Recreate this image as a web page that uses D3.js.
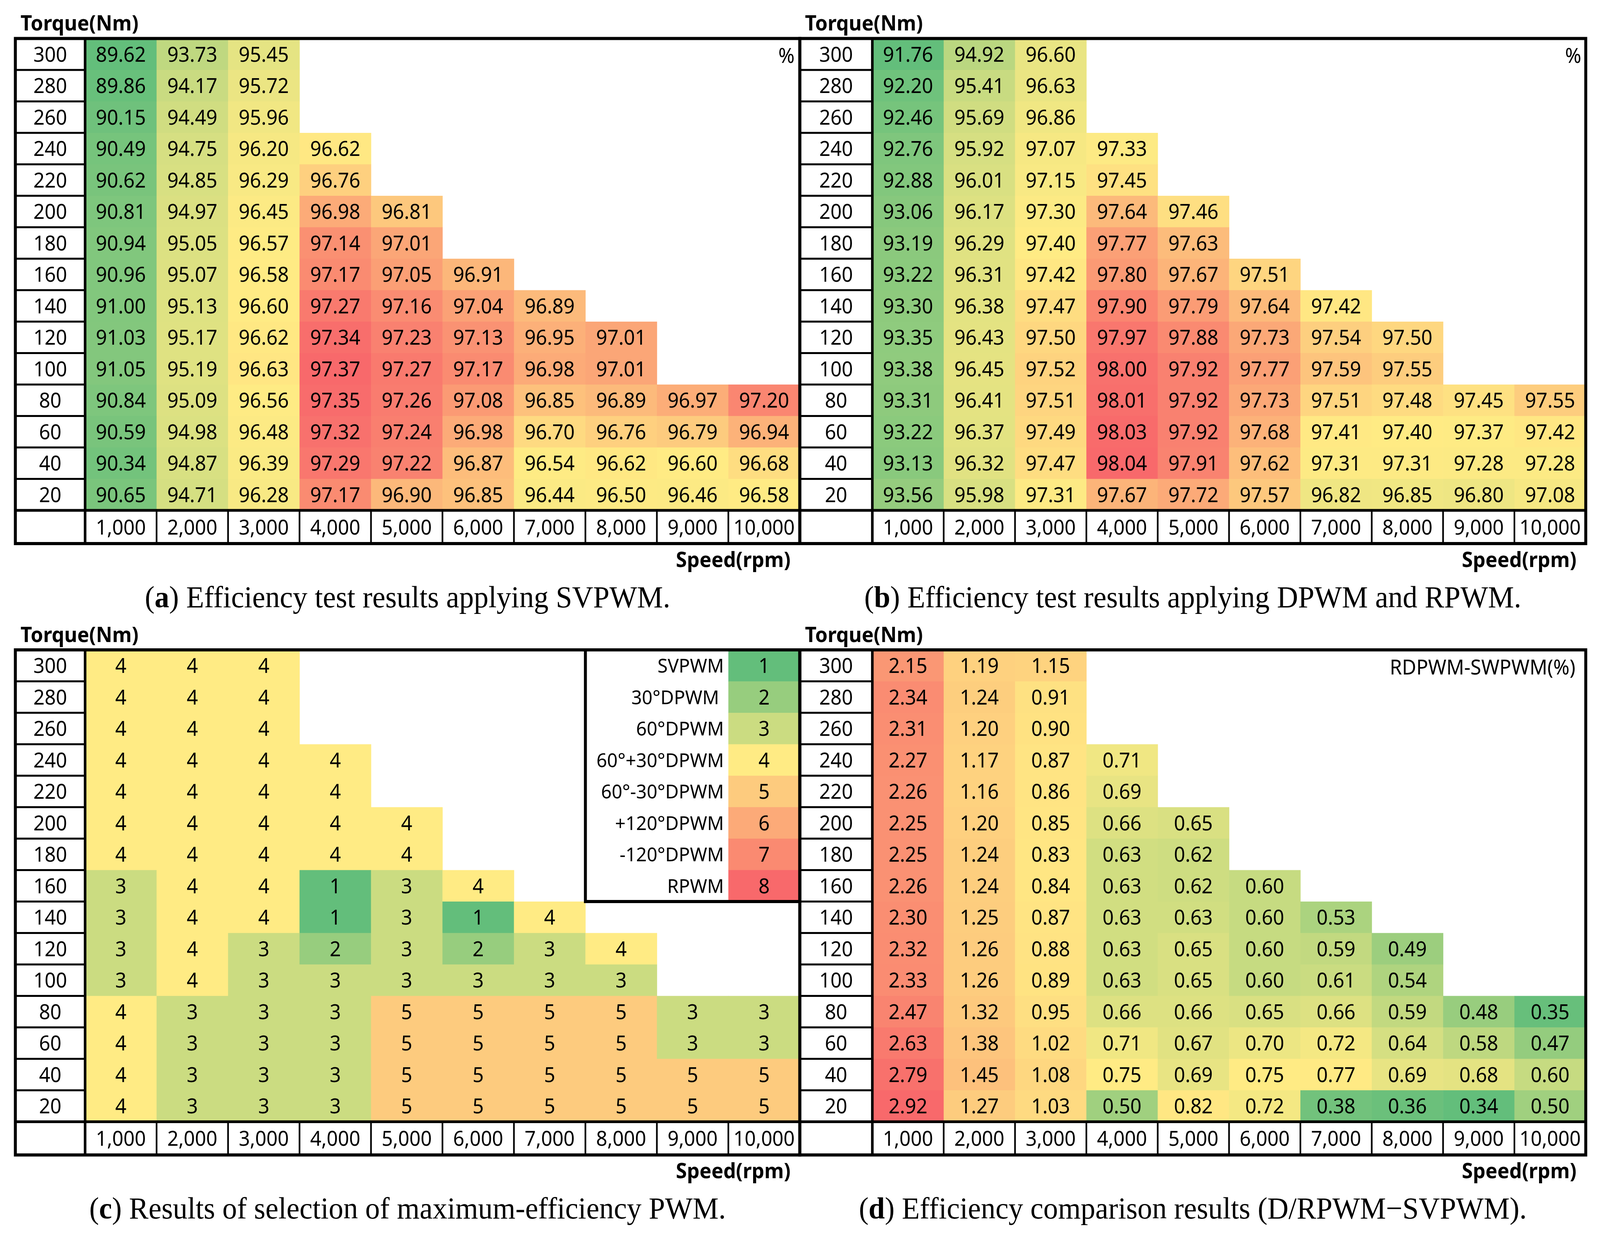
<!DOCTYPE html>
<html>
<head>
<meta charset="utf-8">
<script src="https://cdn.jsdelivr.net/npm/d3@7"></script>
<style>
  html, body { margin: 0; padding: 0; background: #fff; width: 100%; height: 100%; overflow: hidden; }
  svg { display: block; }
  svg text { font-family: 'Noto Sans', 'Open Sans', sans-serif; }
</style>
</head>
<body>
<script>
// Axis categories
const speeds = [1000, 2000, 3000, 4000, 5000, 6000, 7000, 8000, 9000, 10000];
const torques = [300, 280, 260, 240, 220, 200, 180, 160, 140, 120, 100, 80, 60, 40, 20];

// (a) efficiency with SVPWM, one row per torque (top = 300 Nm)
const effSvpwm = [
    [89.62, 93.73, 95.45],
    [89.86, 94.17, 95.72],
    [90.15, 94.49, 95.96],
    [90.49, 94.75, 96.20, 96.62],
    [90.62, 94.85, 96.29, 96.76],
    [90.81, 94.97, 96.45, 96.98, 96.81],
    [90.94, 95.05, 96.57, 97.14, 97.01],
    [90.96, 95.07, 96.58, 97.17, 97.05, 96.91],
    [91.00, 95.13, 96.60, 97.27, 97.16, 97.04, 96.89],
    [91.03, 95.17, 96.62, 97.34, 97.23, 97.13, 96.95, 97.01],
    [91.05, 95.19, 96.63, 97.37, 97.27, 97.17, 96.98, 97.01],
    [90.84, 95.09, 96.56, 97.35, 97.26, 97.08, 96.85, 96.89, 96.97, 97.20],
    [90.59, 94.98, 96.48, 97.32, 97.24, 96.98, 96.70, 96.76, 96.79, 96.94],
    [90.34, 94.87, 96.39, 97.29, 97.22, 96.87, 96.54, 96.62, 96.60, 96.68],
    [90.65, 94.71, 96.28, 97.17, 96.90, 96.85, 96.44, 96.50, 96.46, 96.58]
];

// (b) efficiency with DPWM and RPWM
const effDrpwm = [
    [91.76, 94.92, 96.60],
    [92.20, 95.41, 96.63],
    [92.46, 95.69, 96.86],
    [92.76, 95.92, 97.07, 97.33],
    [92.88, 96.01, 97.15, 97.45],
    [93.06, 96.17, 97.30, 97.64, 97.46],
    [93.19, 96.29, 97.40, 97.77, 97.63],
    [93.22, 96.31, 97.42, 97.80, 97.67, 97.51],
    [93.30, 96.38, 97.47, 97.90, 97.79, 97.64, 97.42],
    [93.35, 96.43, 97.50, 97.97, 97.88, 97.73, 97.54, 97.50],
    [93.38, 96.45, 97.52, 98.00, 97.92, 97.77, 97.59, 97.55],
    [93.31, 96.41, 97.51, 98.01, 97.92, 97.73, 97.51, 97.48, 97.45, 97.55],
    [93.22, 96.37, 97.49, 98.03, 97.92, 97.68, 97.41, 97.40, 97.37, 97.42],
    [93.13, 96.32, 97.47, 98.04, 97.91, 97.62, 97.31, 97.31, 97.28, 97.28],
    [93.56, 95.98, 97.31, 97.67, 97.72, 97.57, 96.82, 96.85, 96.80, 97.08]
];

// (c) selected PWM code
const bestPwm = [
    [4, 4, 4],
    [4, 4, 4],
    [4, 4, 4],
    [4, 4, 4, 4],
    [4, 4, 4, 4],
    [4, 4, 4, 4, 4],
    [4, 4, 4, 4, 4],
    [3, 4, 4, 1, 3, 4],
    [3, 4, 4, 1, 3, 1, 4],
    [3, 4, 3, 2, 3, 2, 3, 4],
    [3, 4, 3, 3, 3, 3, 3, 3],
    [4, 3, 3, 3, 5, 5, 5, 5, 3, 3],
    [4, 3, 3, 3, 5, 5, 5, 5, 3, 3],
    [4, 3, 3, 3, 5, 5, 5, 5, 5, 5],
    [4, 3, 3, 3, 5, 5, 5, 5, 5, 5]
];
const pwmNames = ['SVPWM', '30°DPWM ', '60°DPWM', '60°+30°DPWM', '60°-30°DPWM', '+120°DPWM', '-120°DPWM', 'RPWM'];
const pwmCodes = [1, 2, 3, 4, 5, 6, 7, 8];

// (d) difference D/RPWM - SVPWM
const effDiff = [
    [2.15, 1.19, 1.15],
    [2.34, 1.24, 0.91],
    [2.31, 1.20, 0.90],
    [2.27, 1.17, 0.87, 0.71],
    [2.26, 1.16, 0.86, 0.69],
    [2.25, 1.20, 0.85, 0.66, 0.65],
    [2.25, 1.24, 0.83, 0.63, 0.62],
    [2.26, 1.24, 0.84, 0.63, 0.62, 0.60],
    [2.30, 1.25, 0.87, 0.63, 0.63, 0.60, 0.53],
    [2.32, 1.26, 0.88, 0.63, 0.65, 0.60, 0.59, 0.49],
    [2.33, 1.26, 0.89, 0.63, 0.65, 0.60, 0.61, 0.54],
    [2.47, 1.32, 0.95, 0.66, 0.66, 0.65, 0.66, 0.59, 0.48, 0.35],
    [2.63, 1.38, 1.02, 0.71, 0.67, 0.70, 0.72, 0.64, 0.58, 0.47],
    [2.79, 1.45, 1.08, 0.75, 0.69, 0.75, 0.77, 0.69, 0.68, 0.60],
    [2.92, 1.27, 1.03, 0.50, 0.82, 0.72, 0.38, 0.36, 0.34, 0.50]
];

// Excel-like 3 colour scale
const GREEN = '#63BE7B', YELLOW = '#FFEB84', RED = '#F8696B';
const FS = 53;
const W = 4324, H = 3168;

// viewBox stretched to the viewport so the figure fills the whole picture
const svg = d3.select('body').append('svg')
    .attr('viewBox', `0 0 ${W} ${H}`)
    .attr('preserveAspectRatio', 'none')
    .style('width', '100vw')
    .style('height', '100vh');

function heatScale(rows) {
    const flat = rows.flat();
    return d3.scaleLinear()
        .domain([d3.min(flat), d3.median(flat), d3.max(flat)])
        .range([GREEN, YELLOW, RED]);
}

function drawPanel(p) {
    const g = svg.append('g');
    const rowH = 80.5, speedH = 85;
    const bottomRows = p.top + rowH * torques.length;
    const bottom = bottomRows + speedH;

    const x = d3.scaleBand().domain(speeds).range([p.labelRight, p.right]);
    const y = d3.scaleBand().domain(torques).range([p.top, bottomRows]);

    // Cells
    const cells = p.rows.flatMap((row, i) => row.map((v, j) => ({ t: torques[i], s: speeds[j], v })));
    g.selectAll('rect.cell').data(cells).join('rect')
        .attr('class', 'cell')
        .attr('x', d => x(d.s))
        .attr('y', d => y(d.t))
        .attr('width', x.bandwidth() + 0.6)
        .attr('height', y.bandwidth() + 0.6)
        .attr('fill', d => p.color(d.v));

    g.selectAll('text.cell').data(cells).join('text')
        .attr('class', 'cell')
        .attr('x', d => x(d.s) + x.bandwidth() / 2)
        .attr('y', d => y(d.t) + y.bandwidth() / 2)
        .attr('dy', '0.36em')
        .attr('text-anchor', 'middle')
        .style('font-size', FS + 'px')
        .text(d => p.fmt(d.v));

    // Torque labels (left axis)
    const yAxis = g.append('g')
        .attr('transform', `translate(${(p.left + p.labelRight) / 2},0)`)
        .call(d3.axisLeft(y).tickSize(0).tickPadding(0));
    yAxis.select('.domain').remove();
    yAxis.selectAll('text')
        .attr('text-anchor', 'middle')
        .attr('x', 0)
        .attr('dy', '0.36em')
        .style('font-family', "'Noto Sans', sans-serif")
        .style('font-size', FS + 'px')
        .style('fill', '#000');

    // Speed labels (bottom axis)
    const xAxis = g.append('g')
        .attr('transform', `translate(0,${bottomRows + speedH / 2})`)
        .call(d3.axisBottom(x).tickSize(0).tickPadding(0).tickFormat(d3.format(',')));
    xAxis.select('.domain').remove();
    xAxis.selectAll('text')
        .attr('y', 0)
        .attr('dy', '0.36em')
        .style('font-family', "'Noto Sans', sans-serif")
        .style('font-size', FS + 'px')
        .style('fill', '#000');

    // Grid lines of label column and speed row
    g.selectAll('line.rowsep').data(torques.slice(1)).join('line')
        .attr('class', 'rowsep')
        .attr('x1', p.left).attr('x2', p.labelRight)
        .attr('y1', d => y(d)).attr('y2', d => y(d))
        .attr('stroke', '#000').attr('stroke-width', 5);
    g.selectAll('line.colsep').data(speeds).join('line')
        .attr('class', 'colsep')
        .attr('x1', d => x(d)).attr('x2', d => x(d))
        .attr('y1', bottomRows).attr('y2', bottom)
        .attr('stroke', '#000').attr('stroke-width', 4.5);
    g.append('line')
        .attr('x1', p.labelRight).attr('x2', p.labelRight)
        .attr('y1', p.top).attr('y2', bottom)
        .attr('stroke', '#000').attr('stroke-width', 7);
    g.append('line')
        .attr('x1', p.left).attr('x2', p.right)
        .attr('y1', bottomRows).attr('y2', bottomRows)
        .attr('stroke', '#000').attr('stroke-width', 7);

    // Legend (panel c)
    if (p.legend) {
        const lx = x(speeds[7]);
        const sx = x(speeds[9]);
        const ly = d3.scaleBand().domain(pwmCodes).range([p.top, y(torques[8])]);
        g.append('rect')
            .attr('x', lx).attr('y', p.top)
            .attr('width', p.right - lx).attr('height', ly.range()[1] - p.top)
            .attr('fill', '#fff');
        g.selectAll('rect.leg').data(pwmCodes).join('rect')
            .attr('class', 'leg')
            .attr('x', sx).attr('y', d => ly(d))
            .attr('width', p.right - sx).attr('height', ly.bandwidth() + 0.6)
            .attr('fill', d => p.color(d));
        g.selectAll('text.legnum').data(pwmCodes).join('text')
            .attr('class', 'legnum')
            .attr('x', (sx + p.right) / 2).attr('y', d => ly(d) + ly.bandwidth() / 2)
            .attr('dy', '0.36em').attr('text-anchor', 'middle')
            .style('font-size', FS + 'px')
            .text(d => d);
        g.selectAll('text.legname').data(pwmCodes).join('text')
            .attr('class', 'legname')
            .attr('x', sx - 12).attr('y', d => ly(d) + ly.bandwidth() / 2)
            .attr('dy', '0.36em').attr('text-anchor', 'end')
            .style('font-size', '50px')
            .style('white-space', 'pre')
            .text((d, i) => pwmNames[i]);
        g.append('rect')
            .attr('x', lx).attr('y', p.top)
            .attr('width', p.right - lx).attr('height', ly.range()[1] - p.top)
            .attr('fill', 'none').attr('stroke', '#000').attr('stroke-width', 8);
    }

    // Outer frame
    g.append('rect')
        .attr('x', p.left).attr('y', p.top)
        .attr('width', p.right - p.left).attr('height', bottom - p.top)
        .attr('fill', 'none').attr('stroke', '#000').attr('stroke-width', 8);

    // Unit note top right
    g.append('text')
        .attr('x', p.right - p.noteInset).attr('y', p.top + 63)
        .attr('text-anchor', 'end')
        .style('font-size', FS + 'px')
        .text(p.note);

    // Axis titles
    g.append('text')
        .attr('x', p.left + 14).attr('y', p.top - 20)
        .style('font-size', '54px').style('font-weight', 'bold')
        .text('Torque(Nm)');
    g.append('text')
        .attr('x', p.right - 25).attr('y', bottom + 60)
        .attr('text-anchor', 'end')
        .style('font-size', '54px').style('font-weight', 'bold')
        .text('Speed(rpm)');

    // Caption
    const cap = g.append('text')
        .attr('x', (p.left + p.right) / 2).attr('y', bottom + 163)
        .attr('text-anchor', 'middle')
        .style('font-family', "'Liberation Serif', 'DejaVu Serif', serif")
        .style('font-size', '79px');
    cap.append('tspan').text('(');
    cap.append('tspan').style('font-weight', 'bold').text(p.letter);
    cap.append('tspan').text(') ' + p.caption);
}

const f2 = d3.format('.2f');

drawPanel({ left: 41.5, labelRight: 230, right: 2161.5, top: 98.5, rows: effSvpwm,
    color: heatScale(effSvpwm), fmt: f2, note: '%', noteInset: 14,
    letter: 'a', caption: 'Efficiency test results applying SVPWM.' });
drawPanel({ left: 2161.5, labelRight: 2357.5, right: 4285.5, top: 98.5, rows: effDrpwm,
    color: heatScale(effDrpwm), fmt: f2, note: '%', noteInset: 12,
    letter: 'b', caption: 'Efficiency test results applying DPWM and RPWM.' });
drawPanel({ left: 41.5, labelRight: 230, right: 2161.5, top: 1663, rows: bestPwm,
    color: d3.scaleLinear().domain([1, 4, 8]).range([GREEN, YELLOW, RED]), fmt: d => d, note: '', noteInset: 12,
    legend: true, letter: 'c', caption: 'Results of selection of maximum-efficiency PWM.' });
drawPanel({ left: 2161.5, labelRight: 2357.5, right: 4285.5, top: 1663, rows: effDiff,
    color: heatScale(effDiff), fmt: f2, note: 'RDPWM-SWPWM(%)', noteInset: 28,
    letter: 'd', caption: 'Efficiency comparison results (D/RPWM\u2212SVPWM).' });
</script>
</body>
</html>
